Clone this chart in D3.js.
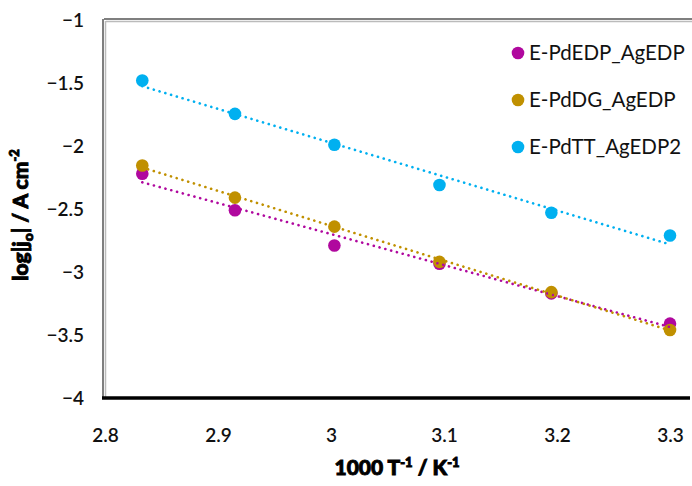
<!DOCTYPE html>
<html><head><meta charset="utf-8">
<script src="https://cdn.jsdelivr.net/npm/d3@7"></script>
<style>body{margin:0;background:#fff}svg{display:block}</style>
</head><body>
<svg id="c" width="692" height="486"></svg>
<script>
const xVals = [2.833, 2.915, 3.003, 3.096, 3.195, 3.300];
const seriesNames = ["E-PdEDP_AgEDP", "E-PdDG_AgEDP", "E-PdTT_AgEDP2"];
const pdedp = [-2.22, -2.51, -2.79, -2.935, -3.17, -3.41];
const pddg  = [-2.155, -2.41, -2.64, -2.92, -3.16, -3.46];
const pdtt  = [-1.48, -1.745, -1.99, -2.31, -2.53, -2.71];
const colors = ["#B0089E", "#C09000", "#00B0F0"];
const xTicks = [2.8, 2.9, 3.0, 3.1, 3.2, 3.3];
const yTicks = [-1, -1.5, -2, -2.5, -3, -3.5, -4];

const svg = d3.select("#c");
const x = d3.scaleLinear().domain([2.8, 3.3]).range([105, 670]);
const y = d3.scaleLinear().domain([-4, -1]).range([398, 20]);
const font = "Lato, 'Open Sans', sans-serif";

// frame
svg.append("line").attr("x1",104).attr("x2",692).attr("y1",19).attr("y2",19).attr("stroke","#555").attr("stroke-width",1.5);
svg.append("line").attr("x1",106).attr("x2",692).attr("y1",21.5).attr("y2",21.5).attr("stroke","#bbb").attr("stroke-width",1.5);
svg.append("line").attr("x1",103).attr("x2",103).attr("y1",19).attr("y2",398).attr("stroke","#555").attr("stroke-width",1.5);
svg.append("line").attr("x1",105.5).attr("x2",105.5).attr("y1",21).attr("y2",398).attr("stroke","#bbb").attr("stroke-width",1.5);

// axes via d3
const xAxis = svg.append("g").attr("transform","translate(0,398)")
  .call(d3.axisBottom(x).tickValues(xTicks).tickSize(0).tickPadding(31).tickFormat(d3.format("")));
xAxis.select(".domain").remove();
svg.append("line").attr("x1",102).attr("x2",690).attr("y1",398).attr("y2",398).attr("stroke","#000").attr("stroke-width",3.5);
xAxis.selectAll("text").attr("font-family",font).attr("font-size",19).attr("fill","#111").attr("font-weight",600);

const yAxis = svg.append("g").attr("transform","translate(84,0)")
  .call(d3.axisLeft(y).tickValues(yTicks).tickSize(0).tickPadding(0).tickFormat(d3.format("")));
yAxis.select(".domain").remove();
yAxis.selectAll("text").attr("font-family",font).attr("font-size",19).attr("fill","#111").attr("font-weight",600);

// series
const data = [pdedp, pddg, pdtt];
function fit(ys){
  const n = xVals.length, mx = d3.mean(xVals), my = d3.mean(ys);
  let sxy=0, sxx=0;
  xVals.forEach((xv,i)=>{sxy+=(xv-mx)*(ys[i]-my); sxx+=(xv-mx)*(xv-mx);});
  const b = sxy/sxx, a = my - b*mx;
  return [xVals[0], xVals[n-1]].map(xv=>[xv, a+b*xv]);
}
data.forEach((ys,si)=>{
  const g = svg.append("g");
  g.selectAll("circle").data(ys).join("circle")
    .attr("cx",(d,i)=>x(xVals[i])).attr("cy",d=>y(d)).attr("r",6.3).attr("fill",colors[si]);
});
data.forEach((ys,si)=>{
  const f = fit(ys);
  svg.append("path").attr("d", d3.line().x(d=>x(d[0])).y(d=>y(d[1]))(f))
    .attr("stroke",colors[si]).attr("stroke-width",2.6).attr("fill","none")
    .attr("stroke-dasharray","0.1,5.9").attr("stroke-linecap","round");
});

// legend
const ly = [53, 100, 147];
seriesNames.forEach((nm,i)=>{
  svg.append("circle").attr("cx",518).attr("cy",ly[i]).attr("r",6.3).attr("fill",colors[i]);
  svg.append("text").attr("x",529).attr("y",ly[i]+7).text(nm)
    .attr("font-family",font).attr("font-size",20.5).attr("fill","#111");
});

// axis titles
const xt = svg.append("text").attr("x",397).attr("y",475).attr("text-anchor","middle")
  .attr("font-family",font).attr("font-weight",900).attr("font-size",21).attr("fill","#000")
  .attr("stroke","#000").attr("stroke-width",0.9);
xt.append("tspan").text("1000 T");
xt.append("tspan").attr("dy",-8).attr("font-size",13).text("-1");
xt.append("tspan").attr("dy",8).text(" / K");
xt.append("tspan").attr("dy",-8).attr("font-size",13).text("-1");

const yt = svg.append("text").attr("transform","translate(28,215) rotate(-90)").attr("text-anchor","middle")
  .attr("font-family",font).attr("font-weight",900).attr("font-size",21).attr("fill","#000")
  .attr("stroke","#000").attr("stroke-width",0.9);
yt.append("tspan").text("log|j");
yt.append("tspan").attr("dy",5).attr("font-size",14).text("o");
yt.append("tspan").attr("dy",-5).text("|  / A cm");
yt.append("tspan").attr("dy",-9).attr("font-size",13).text("-2");
</script>
</body></html>
